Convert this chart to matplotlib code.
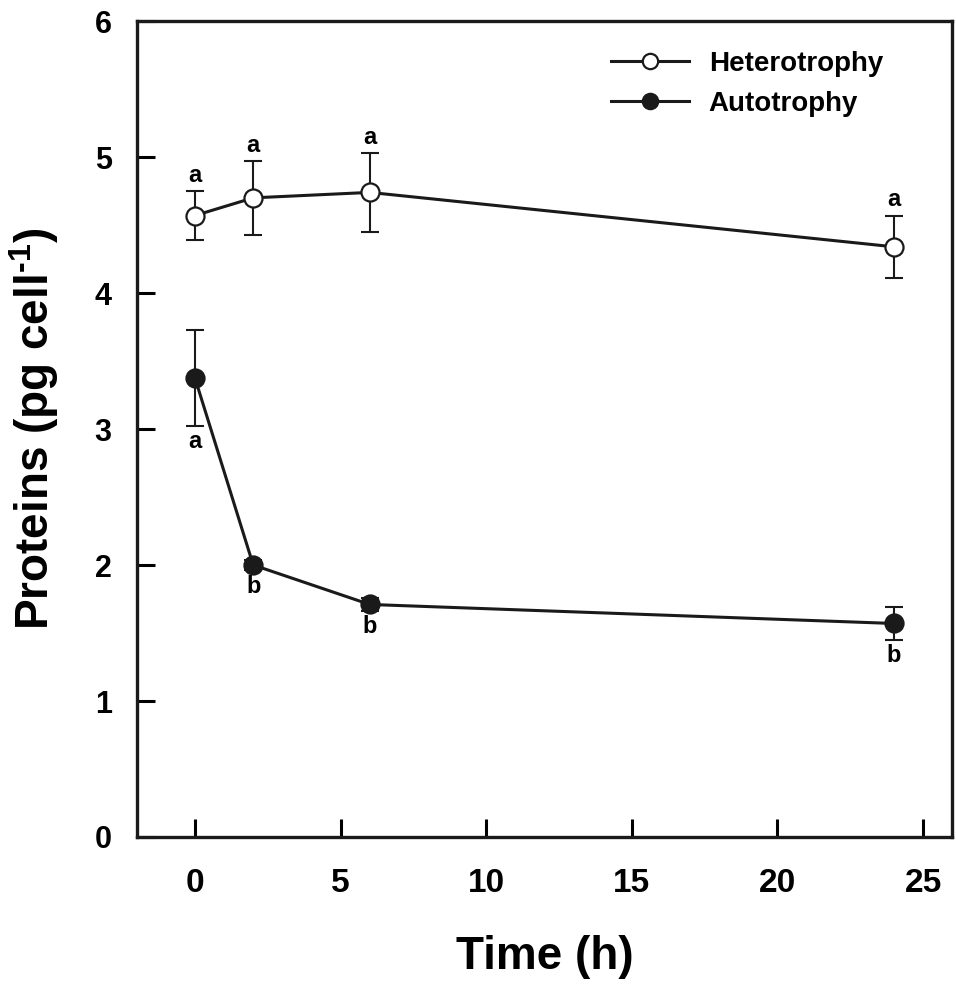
import numpy as np
import matplotlib
matplotlib.use("Agg")
import matplotlib.pyplot as plt

# datos
tiempo = [0, 2, 6, 24]
hetero = [4.57, 4.70, 4.74, 4.34]
hetero_err = [0.18, 0.27, 0.29, 0.23]
auto = [3.375, 2.00, 1.71, 1.57]
auto_err = [0.35, 0.04, 0.05, 0.12]
letras_hetero = ['a', 'a', 'a', 'a']
letras_auto = ['a', 'b', 'b', 'b']

plt.rcParams['font.family'] = ['Liberation Sans', 'DejaVu Sans']
plt.rcParams['font.weight'] = 'bold'
plt.rcParams['mathtext.fontset'] = 'custom'
plt.rcParams['mathtext.bf'] = 'Liberation Sans:bold'
plt.rcParams['mathtext.rm'] = 'Liberation Sans:bold'

fig = plt.figure(figsize=(9.56, 9.89), dpi=100)
ax = fig.add_axes([0.143, 0.1537, 0.853, 0.825])

# Heterotrofia (circulos abiertos)
ax.errorbar(tiempo, hetero, yerr=hetero_err, fmt='none', ecolor='#1a1a1a',
            elinewidth=1.5, capsize=6.5, capthick=1.5, zorder=2)
ax.plot(tiempo, hetero, '-o', color='#1a1a1a', lw=2.2, ms=13,
        mfc='white', mec='#1a1a1a', mew=1.6, label='Heterotrophy', zorder=3)
# Autotrofia (circulos llenos)
ax.errorbar(tiempo, auto, yerr=auto_err, fmt='none', ecolor='#1a1a1a',
            elinewidth=1.5, capsize=6.5, capthick=1.5, zorder=2)
ax.plot(tiempo, auto, '-o', color='#1a1a1a', lw=2.2, ms=13,
        mfc='#1a1a1a', mec='#1a1a1a', mew=1.6, label='Autotrophy', zorder=3)

# letras de significancia
for t, v, e, l in zip(tiempo, hetero, hetero_err, letras_hetero):
    ax.annotate(l, (t, v + e), xytext=(0, 3), textcoords='offset points',
                ha='center', va='bottom', fontsize=17, fontweight='bold')
for t, v, e, l in zip(tiempo, auto, auto_err, letras_auto):
    ax.annotate(l, (t, v - e), xytext=(0, -3), textcoords='offset points',
                ha='center', va='top', fontsize=17, fontweight='bold')

ax.set_xlim(-2, 26)
ax.set_ylim(0, 6)
ax.set_xticks([0, 5, 10, 15, 20, 25])
ax.set_yticks([0, 1, 2, 3, 4, 5, 6])
ax.tick_params(direction='in', length=13, width=2.2, pad=18)
ax.tick_params(axis='x', labelsize=24, pad=22)
ax.tick_params(axis='y', labelsize=22)
for lab in ax.get_xticklabels() + ax.get_yticklabels():
    lab.set_fontweight('bold')
for s in ax.spines.values():
    s.set_linewidth(2.4)
    s.set_color('#1a1a1a')

ax.set_xlabel('Time (h)', fontsize=33, fontweight='bold', labelpad=26)
ax.set_ylabel('Proteins (pg cell$^{\\mathbf{\u20101}}$)', fontsize=33,
              fontweight='bold', labelpad=24)

ax.legend(loc='upper left', bbox_to_anchor=(0.568, 0.977), frameon=False,
          fontsize=20, handlelength=2.8, borderaxespad=0, labelspacing=0.5,
          handletextpad=0.72, markerscale=0.85)

fig.savefig('out.png', dpi=100)
